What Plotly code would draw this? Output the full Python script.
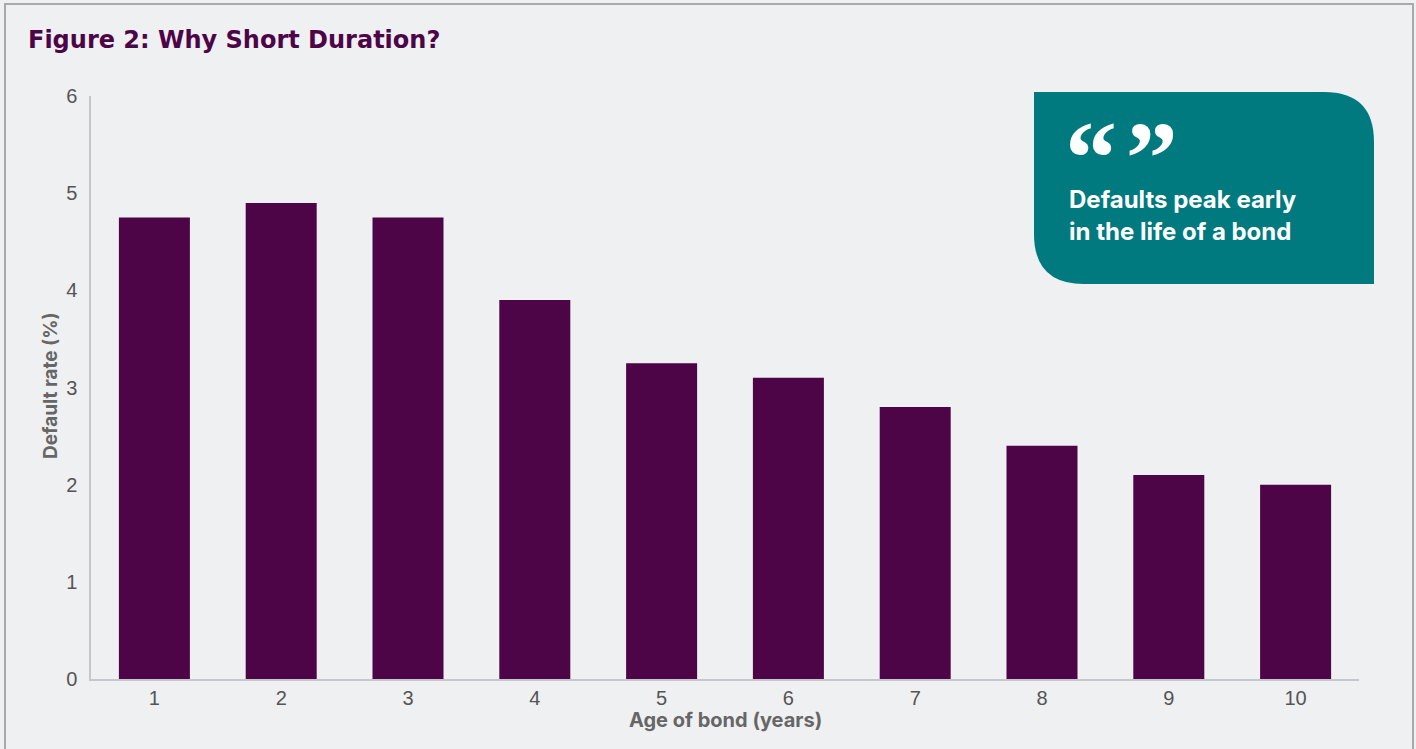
import plotly.graph_objects as go

ages = [1, 2, 3, 4, 5, 6, 7, 8, 9, 10]
default_rate = [4.75, 4.90, 4.75, 3.90, 3.25, 3.10, 2.80, 2.40, 2.10, 2.00]
y_ticks = [0, 1, 2, 3, 4, 5, 6]

W, H = 1416, 749
def px(x): return x / W
def py(y): return 1 - y / H

BG = "#eff0f2"
PURPLE = "#4d0548"
TEAL = "#007a7e"
TICK = dict(family="Liberation Sans", size=20, color="#555555")

fig = go.Figure()
fig.add_trace(go.Bar(x=ages, y=default_rate, marker=dict(color=PURPLE, line=dict(width=0)),
                     width=0.56, hoverinfo="x+y"))

# rounded callout box
x0, x1, y0, y1, r = 1034, 1374, 92, 284, 50
path = (f"M {px(x0)},{py(y0)} L {px(x1 - r)},{py(y0)} Q {px(x1)},{py(y0)} {px(x1)},{py(y0 + r)} "
        f"L {px(x1)},{py(y1)} L {px(x0 + r)},{py(y1)} Q {px(x0)},{py(y1)} {px(x0)},{py(y1 - r)} Z")
shapes = [
    dict(type="rect", xref="paper", yref="paper", x0=px(5), x1=px(1413), y0=py(760), y1=py(4),
         line=dict(color="#a9a9a9", width=2), fillcolor="rgba(0,0,0,0)", layer="below"),
    dict(type="path", xref="paper", yref="paper", path=path, fillcolor=TEAL, line=dict(width=0)),
]

annotations = [
    dict(text="Figure 2: Why Short Duration?", x=px(26), y=py(40), xref="paper", yref="paper",
         xanchor="left", yanchor="middle", showarrow=False,
         font=dict(family="DejaVu Sans", size=24, color=PURPLE, weight=700)),
    dict(text="\u201c\u200a\u201d", x=px(1063), y=py(98), xref="paper", yref="paper",
         xanchor="left", yanchor="top", valign="top", height=64, showarrow=False,
         font=dict(family="Liberation Serif", size=104, color="white", weight=700)),
    dict(text="Defaults peak early", x=px(1067), y=py(199), xref="paper", yref="paper",
         xanchor="left", yanchor="middle", align="left", showarrow=False,
         font=dict(family="Inter", size=24, color="white", weight=700)),
    dict(text="in the life of a bond", x=px(1067), y=py(232), xref="paper", yref="paper",
         xanchor="left", yanchor="middle", align="left", showarrow=False,
         font=dict(family="Inter", size=24, color="white", weight=700)),
    dict(text="Age of bond (years)", x=(px(91) + px(1359)) / 2, y=py(720), xref="paper", yref="paper",
         xanchor="center", yanchor="middle", showarrow=False,
         font=dict(family="Inter", size=20, color="#666666", weight=700)),
    dict(text="Default rate (%)", x=px(50), y=py(386), xref="paper", yref="paper", textangle=-90,
         xanchor="center", yanchor="middle", showarrow=False,
         font=dict(family="Inter", size=19, color="#666666", weight=700)),
]

fig.update_layout(
    width=W, height=H,
    margin=dict(l=0, r=0, t=0, b=0, autoexpand=False),
    paper_bgcolor=BG, plot_bgcolor=BG,
    showlegend=False,
    shapes=shapes,
    annotations=annotations,
    xaxis=dict(domain=[px(91), px(1359)], range=[0.5, 10.5], tickvals=ages, automargin=False,
               ticktext=[str(a) for a in ages], showgrid=False, zeroline=False,
               showline=True, linecolor="#c6c7cc", linewidth=1.5, ticks="", ticklabelstandoff=0,
               tickfont=TICK),
    yaxis=dict(domain=[1 - 679 / H, 1 - 96 / H], range=[0, 6], tickvals=y_ticks, automargin=False,
               showgrid=False, zeroline=False, showline=True, linecolor="#c6c7cc", linewidth=1.5,
               ticks="", ticklabelstandoff=8, tickfont=TICK),
)

fig.write_html("out.html")
